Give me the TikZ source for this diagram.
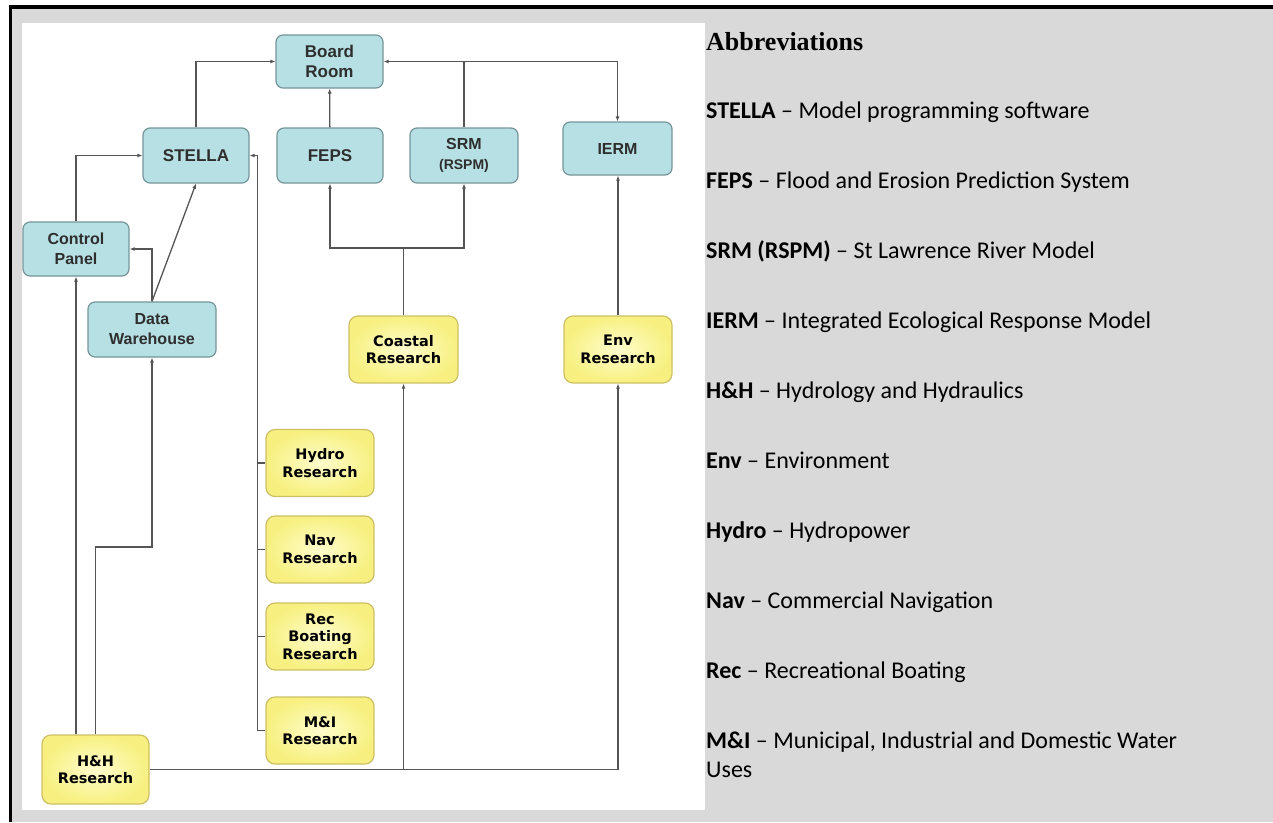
\documentclass[tikz,border=0pt]{standalone}
\usepackage{fontspec}
\usetikzlibrary{arrows.meta, positioning, calc}
\newfontfamily\arialf{Liberation Sans}
\newfontfamily\verdf{DejaVu Sans}
\newfontfamily\calf{Carlito}
\newfontfamily\timesf{Liberation Serif}
\definecolor{panelgray}{RGB}{217,217,217}
\definecolor{modblue}{RGB}{183,224,228}
\definecolor{modedge}{RGB}{118,150,153}
\definecolor{resyel}{RGB}{247,240,128}
\definecolor{resmid}{RGB}{255,253,205}
\definecolor{resedge}{RGB}{205,192,100}
\definecolor{wirec}{RGB}{85,85,85}
\tikzset{
  model/.style = {draw=modedge, fill=modblue, rounded corners=7pt, line width=1.2pt,
                  align=center, minimum width=106pt, minimum height=55pt, inner sep=0pt,
                  text=black!82, font=\arialf\bfseries\fontsize{17}{20}\selectfont},
  res/.style   = {draw=resedge, inner color=resmid, outer color=resyel, rounded corners=9pt,
                  line width=1.2pt, align=center, minimum width=108pt, minimum height=67pt,
                  inner sep=0pt, font=\verdf\bfseries\fontsize{14.5}{17.5}\selectfont},
  wire/.style  = {draw=wirec, line width=1.3pt},
  sig/.style   = {wire, -{Latex[length=5pt, width=4pt]}},
  abbr/.style  = {anchor=base west, inner sep=0pt, align=left,
                  font=\calf\fontsize{24}{29}\selectfont},
}

\begin{document}
\begin{tikzpicture}[x=1pt, y=-1pt]
  \useasboundingbox (0,0) rectangle (1273,822);
  \fill[panelgray] (10,7) rectangle (1273,822);
  \draw[line width=3.5pt] (10.5,822) -- (10.5,7) -- (1273,7);
  \fill[white] (22,23) rectangle (705,810);

  \node[model, minimum width=107pt, minimum height=53pt] (board) at (329.5,61.5) {Board\\Room};
  \node[model] (stella) at (196,155.5) {STELLA};
  \node[model] (feps) at (330,155.5) {FEPS};
  \node[model, minimum width=108pt] (srm) at (464,155.5)
    {\fontsize{16}{18}\selectfont SRM\\\fontsize{14}{18}\selectfont(RSPM)};
  \node[model, minimum width=109pt, minimum height=53pt, font=\arialf\bfseries\fontsize{16}{19}\selectfont]
    (ierm) at (617.5,148.5) {IERM};
  \node[model, minimum height=54pt, font=\arialf\bfseries\fontsize{16}{20}\selectfont]
    (ctrl) at (76,249) {Control\\Panel};
  \node[model, minimum width=128pt, font=\arialf\bfseries\fontsize{16}{20}\selectfont]
    (dw) at (152,329.5) {Data\\Warehouse};

  \node[res, minimum width=109pt] (coastal) at (403.5,349.5) {Coastal\\Research};
  \node[res] (env) at (618,349.5) {Env\\Research};
  \foreach \n/\y/\t in {hydro/463/{Hydro\\Research}, nav/549.5/{Nav\\Research},
                        rec/636.5/{Rec\\Boating\\Research}, mi/730.5/{M\&I\\Research}}
    \node[res] (\n) at (320,\y) {\t};
  \node[res, minimum width=107pt, minimum height=69pt] (hh) at (95.5,769.5) {H\&H\\Research};

  \draw[sig] (stella.north) |- (board.west);
  \draw[sig] (feps) -- (board);
  \coordinate (top) at (srm.north |- board.east);
  \draw[wire] (srm.north) -- (top);
  \draw[sig] (top) -- (board.east);
  \draw[sig] (top) -| (ierm.north);
  \coordinate (split) at (403.5,248);
  \draw[wire] (coastal.north) -- (split);
  \draw[sig] (split) -| (feps.south);
  \draw[sig] (split) -| (srm.south);
  \draw[sig] (env.north) -- (env.north |- ierm.south);

  \draw[sig] (hh.east) -| (env.south);
  \draw[sig] (hh.east -| coastal.south) -- (coastal.south);
  \draw[sig] (hh.north -| ctrl.south) -- (ctrl.south);
  \coordinate (bend) at (95.5,547);
  \draw[sig] (hh.north) -- (bend) -| (dw.south);

  \draw[sig] (ctrl.north) |- (stella.west);
  \draw[sig] (dw.north) |- (ctrl.east);
  \draw[sig] (dw.north) -- (stella.south);

  \coordinate (bus) at ($(stella.east)+(8,0)$);
  \draw[sig] (bus |- mi.west) -- (bus) -- (stella.east);
  \foreach \n in {hydro,nav,rec,mi}
    \draw[wire] (bus |- \n.west) -- (\n.west);

  \node[anchor=base west, inner sep=0pt, font=\timesf\bfseries\fontsize{26}{30}\selectfont]
    (abbrev) at (706,50) {Abbreviations};
  \foreach \i/\a/\d in {0/STELLA/Model programming software,
                        1/FEPS/Flood and Erosion Prediction System,
                        2/SRM (RSPM)/St Lawrence River Model,
                        3/IERM/Integrated Ecological Response Model,
                        4/H\&H/Hydrology and Hydraulics,
                        5/Env/Environment,
                        6/Hydro/Hydropower,
                        7/Nav/Commercial Navigation,
                        8/Rec/Recreational Boating}
    \node[abbr] (ab\i) at (706,118+70*\i) {\textbf{\a} – \d};
  \node[abbr] (ab9) at (706,777) {\textbf{M\&I} – Municipal, Industrial and Domestic Water\\Uses};
\end{tikzpicture}
\end{document}
